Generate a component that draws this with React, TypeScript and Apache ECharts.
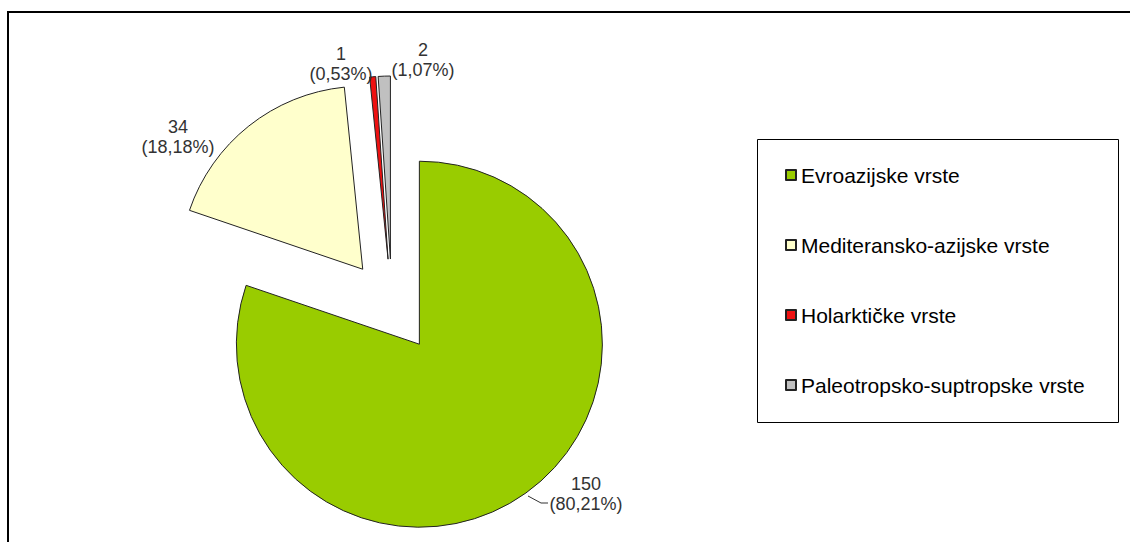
import React, { useEffect, useRef } from "react";
import * as echarts from "echarts";

const categories = [
  "Evroazijske vrste",
  "Mediteransko-azijske vrste",
  "Holarktičke vrste",
  "Paleotropsko-suptropske vrste",
];
const counts = [150, 34, 1, 2];
const colors = ["#99cc00", "#ffffcc", "#ee1111", "#c0c0c0"];

// label anchor positions (layout only)
const labelPos: [number, number][] = [
  [586, 494],
  [178, 137],
  [341, 64],
  [423, 60],
];

export default function App() {
  const ref = useRef<HTMLDivElement>(null);
  useEffect(() => {
    if (!ref.current) return;
    const chart = echarts.init(ref.current, null, { renderer: "svg" });
    const font = "'Liberation Sans', Arial, sans-serif";
    const total = counts.reduce((a, b) => a + b, 0);
    const labelText = counts.map(
      (v) => v + "\n(" + ((v / total) * 100).toFixed(2).replace(".", ",") + "%)"
    );
    const labelGraphics = labelText.map((t, i) => ({
      type: "text",
      z: 5,
      style: {
        text: t,
        x: labelPos[i][0],
        y: labelPos[i][1],
        align: "center",
        verticalAlign: "middle",
        font: "18px " + font,
        lineHeight: 20,
        fill: "#333",
      },
    }));
    chart.setOption({
      animation: false,
      backgroundColor: "#ffffff",
      graphic: [
        {
          type: "rect",
          z: 0,
          shape: { x: 8, y: 12, width: 1200, height: 600 },
          style: { fill: "none", stroke: "#000", lineWidth: 2 },
        },
        {
          type: "rect",
          z: 0,
          shape: { x: 757.5, y: 139.5, width: 361, height: 283 },
          style: { fill: "#fff", stroke: "#000", lineWidth: 1 },
        },
        {
          type: "polyline",
          z: 5,
          shape: {
            points: [
              [528, 496],
              [541, 503],
              [548, 503],
            ],
          },
          style: { stroke: "#333", lineWidth: 1, fill: "none" },
        },
        ...labelGraphics,
      ],
      legend: {
        orient: "vertical",
        left: 785,
        top: 163,
        z: 10,
        selectedMode: false,
        icon: "rect",
        itemWidth: 10,
        itemHeight: 10,
        itemGap: 46,
        padding: 0,
        data: categories,
        textStyle: {
          fontFamily: font,
          fontSize: 21,
          lineHeight: 24,
          color: "#000",
        },
      },
      series: [
        {
          type: "pie",
          center: [392, 306],
          radius: 183,
          startAngle: 90,
          clockwise: true,
          selectedMode: "multiple",
          selectedOffset: 47,
          emphasis: { disabled: true },
          itemStyle: { borderColor: "#222", borderWidth: 1 },
          label: { show: false },
          labelLine: { show: false },
          data: categories.map((name, i) => ({
            name,
            value: counts[i],
            selected: true,
            itemStyle: { color: colors[i] },
            select: {
              itemStyle: { color: colors[i], borderColor: "#222", borderWidth: 1 },
            },
          })),
        },
      ],
    });
    return () => chart.dispose();
  }, []);
  return (
    <div
      ref={ref}
      style={{ position: "absolute", left: 0, top: 0, width: 1130, height: 542 }}
    />
  );
}
